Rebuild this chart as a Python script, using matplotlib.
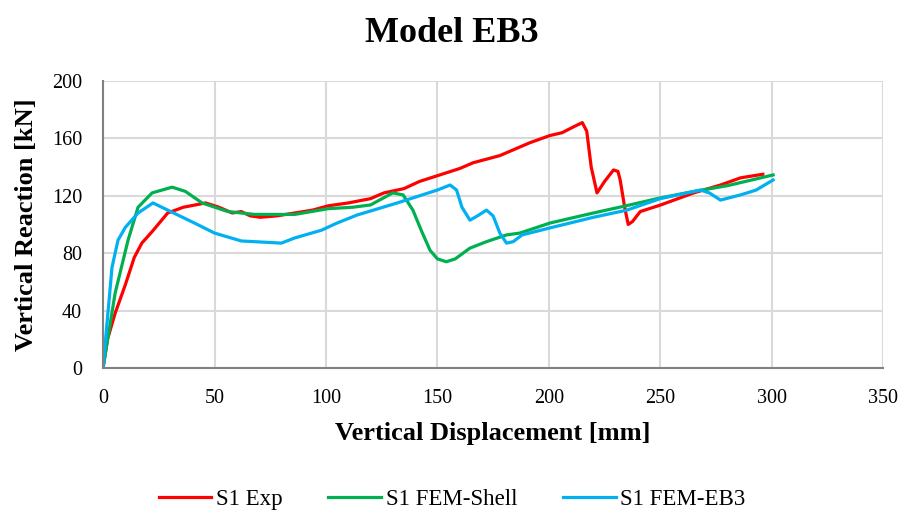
import matplotlib
matplotlib.use("Agg")
import matplotlib.pyplot as plt

plt.rcParams['font.family'] = ['Liberation Serif', 'DejaVu Serif']

# S1 Exp (red)
exp_x = [0, 2, 5.4, 10, 14, 17.4, 22, 29, 36, 46, 52, 58, 62, 66, 70.5, 78, 86, 94, 101,
         110, 120, 126, 135, 142, 150, 160, 166, 178, 191.5, 200.5, 206, 211, 215,
         217, 219, 221.6, 225, 229, 231, 232, 234, 235.6, 237.5, 241, 250, 265, 277, 286, 296]
exp_y = [0, 20, 38, 58, 77, 87, 95, 108, 112, 115, 112, 108, 109, 106, 105, 106, 108, 110, 113,
         115, 118, 122, 125, 130, 134, 139, 143, 148, 157, 162, 164, 168, 171,
         165, 140, 122, 130, 138, 137, 131, 112, 100, 102, 109, 113.5, 122, 127.5, 132.5, 135]

# S1 FEM-Shell (green)
shell_x = [0, 5.4, 11.2, 15.7, 22, 31, 37, 44.4, 56, 68, 86, 101, 112, 120, 124, 130, 134.6,
           139, 143, 146.7, 150, 154, 158, 164.6, 172, 181, 187, 200.5, 220, 236, 250, 265, 280, 300.6]
shell_y = [0, 52, 89, 112, 122, 126, 123, 115, 109, 107, 107, 111, 112, 113.6, 117, 122, 120.6,
           110, 95, 82, 76, 74, 76, 83.5, 88, 92.7, 94, 101, 108, 113.5, 118.5, 123, 127, 134.5]

# S1 FEM-EB3 (blue)
eb3_x = [0, 4, 6.7, 10, 15.7, 22.4, 29, 41, 50, 62, 80, 86, 98, 105, 114, 132, 150, 155.7,
         158.6, 161, 164.6, 168, 172, 175, 178, 181, 184, 188, 200.5, 220, 235, 250, 262, 268,
         272, 277, 286, 293, 300.6]
eb3_y = [0, 70, 89, 98, 108, 115, 110, 101, 94, 88.5, 87, 90.6, 96, 101, 106.6, 115, 124, 127.5,
         124, 112, 103, 106, 110, 106, 94, 87, 88, 92.7, 97.6, 105, 110, 118, 122, 124,
         122, 117, 120.6, 124, 131]

x_ticks = [0, 50, 100, 150, 200, 250, 300, 350]
y_ticks = [0, 40, 80, 120, 160, 200]

fig = plt.figure(figsize=(9.04, 5.16), dpi=100)
ax = fig.add_axes([0.114, 0.287, 0.863, 0.556])

ax.plot(exp_x, exp_y, color='#ff0000', lw=2.3, label='S1 Exp', solid_joinstyle='round')
ax.plot(shell_x, shell_y, color='#00b050', lw=2.3, label='S1 FEM-Shell', solid_joinstyle='round')
ax.plot(eb3_x, eb3_y, color='#00b0f0', lw=2.3, label='S1 FEM-EB3', solid_joinstyle='round')

ax.set_xlim(0, 350)
ax.set_ylim(0, 200)
ax.set_xticks(x_ticks)
ax.set_yticks(y_ticks)
ax.grid(True, color='#d9d9d9', lw=1.5)
ax.set_axisbelow(True)
for s in ['top', 'right']:
    ax.spines[s].set_visible(False)
for s in ['left', 'bottom']:
    ax.spines[s].set_color('#808080')
    ax.spines[s].set_linewidth(1.5)
ax.tick_params(length=0, labelsize=14.5)
ax.tick_params(axis='x', pad=15)
ax.tick_params(axis='y', pad=15)

fig.suptitle('Model EB3', fontsize=26, fontweight='bold', x=0.5, y=0.968, va='top')
ax.set_xlabel('Vertical Displacement [mm]', fontsize=19, fontweight='bold')
ax.set_ylabel('Vertical Reaction [kN]', fontsize=19, fontweight='bold')
ax.xaxis.set_label_coords(0.5, -0.19)
ax.yaxis.set_label_coords(-0.084, 0.5)

fig.legend(loc='lower center', bbox_to_anchor=(0.5, -0.028), ncol=3, frameon=False,
           fontsize=16.5, handlelength=2.3, handletextpad=0.2, columnspacing=2.0)

fig.savefig('out.png', dpi=100)
